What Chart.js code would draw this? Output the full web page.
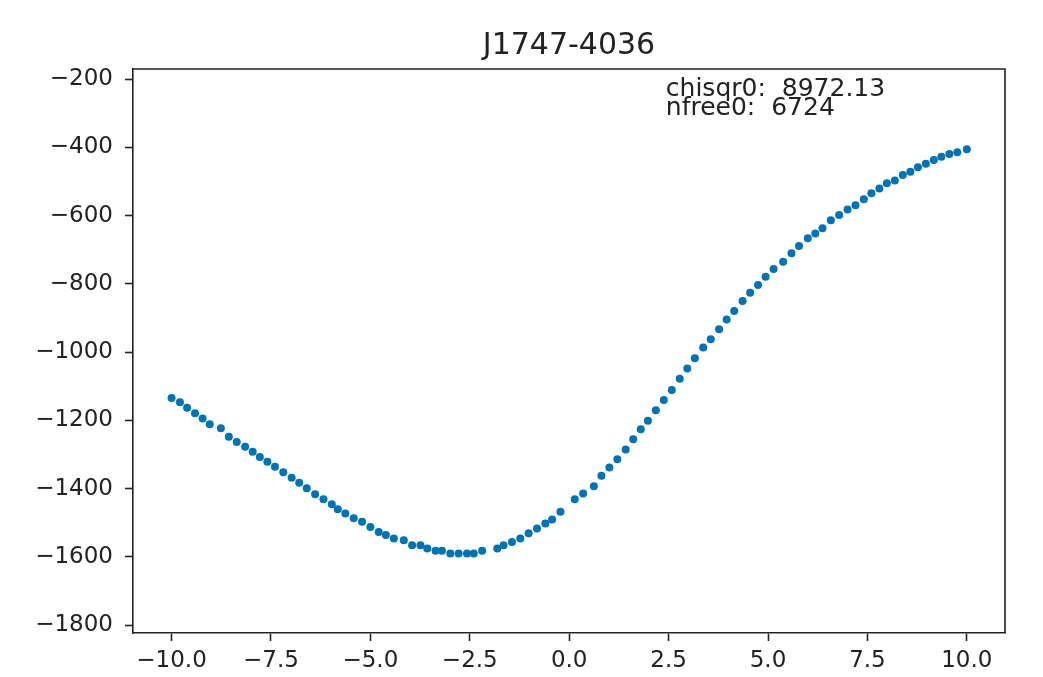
<!DOCTYPE html>
<html>
<head>
<meta charset="utf-8">
<script src="https://cdn.jsdelivr.net/npm/chart.js@4/dist/chart.umd.min.js"></script>
<style>
  html, body { margin: 0; padding: 0; background: #fff; }
  #wrap { width: 1043px; height: 677px; }
</style>
</head>
<body>
<div id="wrap"><canvas id="fitChart"></canvas></div>
<script>
// values
const xVals = [-10.0, -9.79, -9.61, -9.41, -9.22, -9.04, -8.76, -8.56, -8.36, -8.15,
    -7.96, -7.78, -7.59, -7.40, -7.19, -6.98, -6.79, -6.60, -6.39, -6.18,
    -5.97, -5.82, -5.63, -5.42, -5.21, -5.0, -4.79, -4.61, -4.41, -4.16,
    -3.95, -3.74, -3.57, -3.36, -3.20, -2.99, -2.78, -2.57, -2.40, -2.19,
    -1.81, -1.65, -1.44, -1.23, -1.02, -0.81, -0.60, -0.43, -0.22, 0.14,
    0.35, 0.62, 0.81, 1.01, 1.21, 1.42, 1.61, 1.80, 1.98, 2.18,
    2.38, 2.58, 2.78, 2.97, 3.16, 3.37, 3.56, 3.77, 3.96, 4.15,
    4.36, 4.55, 4.75, 4.94, 5.14, 5.38, 5.59, 5.78, 6.0, 6.19,
    6.37, 6.58, 6.79, 7.0, 7.20, 7.41, 7.60, 7.80, 7.99, 8.19,
    8.39, 8.58, 8.77, 8.97, 9.17, 9.36, 9.56, 9.76, 10.0];
const yVals = [-1134, -1147, -1163, -1179, -1194, -1211, -1223, -1248, -1263, -1277,
    -1292, -1307, -1321, -1336, -1352, -1368, -1383, -1399, -1416, -1431,
    -1446, -1460, -1473, -1487, -1497, -1512, -1527, -1536, -1546, -1551,
    -1566, -1566, -1575, -1582, -1582, -1590, -1590, -1590, -1590, -1582,
    -1575, -1566, -1556, -1546, -1531, -1517, -1502, -1490, -1468, -1431,
    -1414, -1393, -1362, -1338, -1314, -1285, -1255, -1226, -1201, -1170,
    -1140, -1111, -1078, -1048, -1018, -986, -962, -933, -904, -879,
    -850, -826, -803, -779, -756, -735, -710, -689, -666, -652,
    -637, -613, -598, -582, -569, -552, -534, -520, -505, -497,
    -481, -471, -458, -448, -437, -427, -419, -414, -405];

const xTicks = [-10, -7.5, -5, -2.5, 0, 2.5, 5, 7.5, 10];
const yTicks = [-200, -400, -600, -800, -1000, -1200, -1400, -1600, -1800];
const titleText = 'J1747-4036';
const infoLines = ['chisqr0:  8972.13', 'nfree0:  6724'];

const FONT = '"DejaVu Sans", sans-serif';
const INK = '#222';

// matplotlib style minus sign
function fmt(v, digits) {
    const s = Math.abs(v).toFixed(digits);
    return v < 0 ? '\u2212' + s : s;
}

// title, text box and the top/right spines
const decorations = {
    id: 'decorations',
    afterDraw(chart) {
        const ctx = chart.ctx;
        const a = chart.chartArea;
        ctx.save();
        ctx.strokeStyle = INK;
        ctx.lineWidth = 1.6;
        ctx.beginPath();
        ctx.moveTo(a.left, a.top);
        ctx.lineTo(a.right, a.top);
        ctx.lineTo(a.right, a.bottom);
        ctx.stroke();

        ctx.fillStyle = INK;
        ctx.font = '30px ' + FONT;
        ctx.textAlign = 'center';
        ctx.textBaseline = 'alphabetic';
        ctx.fillText(titleText, (a.left + a.right) / 2, a.top - 15);

        const xs = chart.scales.x;
        ctx.font = '25px ' + FONT;
        ctx.textAlign = 'left';
        const tx = xs.getPixelForValue(2.43);
        ctx.fillText(infoLines[0], tx, a.top + 27);
        ctx.fillText(infoLines[1], tx, a.top + 46);
        ctx.restore();
    }
};

new Chart(document.getElementById('fitChart'), {
    type: 'scatter',
    data: {
        datasets: [{
            data: xVals.map((x, i) => ({ x: x, y: yVals[i] })),
            backgroundColor: '#0072b2',
            borderWidth: 0,
            pointRadius: 4,
            pointHoverRadius: 4
        }]
    },
    options: {
        responsive: true,
        maintainAspectRatio: false,
        animation: false,
        layout: { padding: { top: 69, right: 38, left: 0, bottom: 0 } },
        plugins: {
            legend: { display: false },
            title: { display: false },
            tooltip: { enabled: false }
        },
        scales: {
            x: {
                type: 'linear',
                min: -10.97,
                max: 10.96,
                afterBuildTicks: s => { s.ticks = xTicks.map(v => ({ value: v })); },
                afterFit: s => { s.height = 44; },
                grid: { drawOnChartArea: false, drawTicks: true, tickLength: 8, tickWidth: 1.6, color: INK },
                border: { display: true, color: INK, width: 1.6 },
                ticks: {
                    color: INK,
                    font: { family: FONT, size: 23 },
                    padding: 6,
                    maxRotation: 0,
                    callback: v => fmt(v, 1)
                }
            },
            y: {
                type: 'linear',
                min: -1823,
                max: -170,
                afterBuildTicks: s => { s.ticks = yTicks.map(v => ({ value: v })); },
                afterFit: s => { s.width = 133; },
                grid: { drawOnChartArea: false, drawTicks: true, tickLength: 8, tickWidth: 1.6, color: INK },
                border: { display: true, color: INK, width: 1.6 },
                ticks: {
                    color: INK,
                    font: { family: FONT, size: 23 },
                    padding: 12,
                    callback: v => fmt(v, 0)
                }
            }
        }
    },
    plugins: [decorations]
});
</script>
</body>
</html>
